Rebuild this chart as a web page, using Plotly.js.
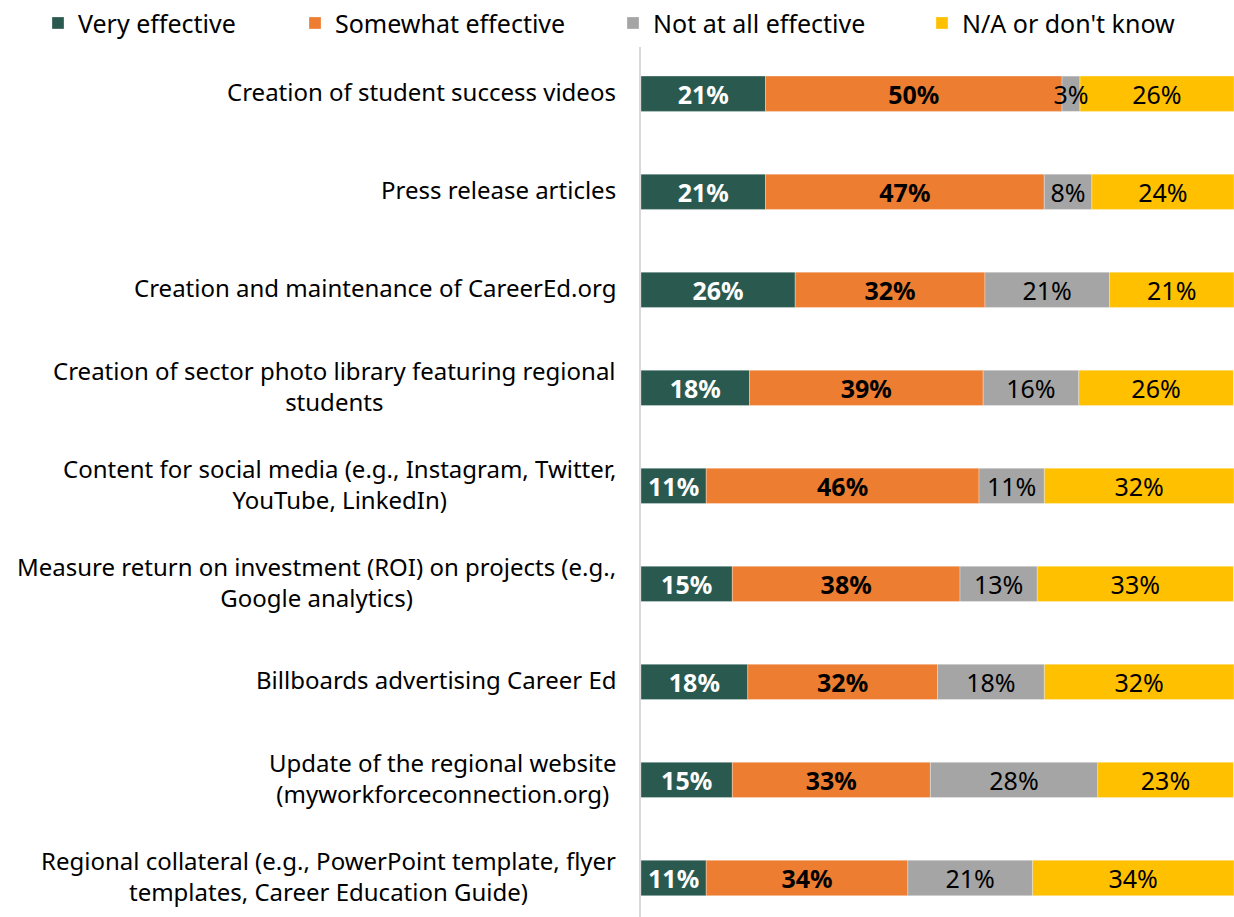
<!DOCTYPE html>
<html><head><meta charset="utf-8">
<script src="https://cdn.plot.ly/plotly-3.0.1.min.js"></script>
<style>html,body{margin:0;padding:0;background:#fff}#chart{width:1234px;height:917px}</style>
</head><body><div id="chart"></div>
<script>
const categories = [
  "Creation of student success videos",
  "Press release articles",
  "Creation and maintenance of CareerEd.org",
  "Creation of sector photo library featuring regional<br>students",
  "Content for social media (e.g., Instagram, Twitter,<br>YouTube, LinkedIn)",
  "Measure return on investment (ROI) on projects (e.g.,<br>Google analytics)",
  "Billboards advertising Career Ed",
  "Update of the regional website<br>(myworkforceconnection.org)",
  "Regional collateral (e.g., PowerPoint template, flyer<br>templates, Career Education Guide)"
];
const seriesNames = ["Very effective", "Somewhat effective", "Not at all effective", "N/A or don't know"];
const veryEffective     = [21, 21, 26, 18.3, 11, 15.4, 18, 15.4, 11];
const somewhatEffective = [50, 47, 32, 39.4, 46, 38.4, 32, 33.4, 34];
const notEffective      = [3, 8, 21, 16.1, 11, 13.0, 18, 28.2, 21];
const naDontKnow        = [26, 24, 21, 26.1, 32, 33.1, 32, 22.9, 34];

const colors = ["#2A5A4F", "#ED7D31", "#A5A5A5", "#FFC000"];
const textColors = ["#ffffff", "#000000", "#000000", "#000000"];
const bold = [true, true, false, false];
const FONT = "Noto Sans, Lato, sans-serif";
const values = [veryEffective, somewhatEffective, notEffective, naDontKnow];
const legendIds = ["legend", "legend2", "legend3", "legend4"];
const legendLeftPx = [38, 295, 613, 922];

// cumulative bases so segments can be drawn in any order (grey labels on top of yellow)
const bases = values.map((v, i) => v.map((_, k) => values.slice(0, i).reduce((s, arr) => s + arr[k], 0)));

const mk = i => ({
  type: "bar",
  orientation: "h",
  name: seriesNames[i],
  legend: legendIds[i],
  y: categories,
  x: values[i],
  base: bases[i],
  marker: {color: colors[i], line: {color: "rgba(255,255,255,0.6)", width: 0.5}},
  texttemplate: bold[i] ? "<b>%{x:.0f}%</b>" : "%{x:.0f}%",
  textposition: "inside",
  insidetextanchor: "middle",
  textangle: 0,
  constraintext: "none",
  textfont: {family: FONT, size: 25, color: textColors[i]},
  cliponaxis: false,
  hoverinfo: "skip"
});
const traces = [mk(0), mk(1), mk(3), mk(2)];

const annotations = categories.map(c => ({
  xref: "paper", yref: "y", x: 0, y: c, xanchor: "right", yanchor: "middle",
  xshift: -23, yshift: 2, text: c, showarrow: false, align: "center",
  font: {family: FONT, size: 24, color: "#000"}
}));

const layout = {
  width: 1234, height: 917,
  margin: {l: 641, r: 0, t: 40, b: 0},
  barmode: "overlay",
  bargap: 0.64,
  paper_bgcolor: "#fff", plot_bgcolor: "#fff",
  font: {family: FONT, size: 24, color: "#000"},
  uniformtext: {mode: "show", minsize: 25},
  xaxis: {range: [0, 100], showgrid: false, zeroline: false, showticklabels: false, showline: false, fixedrange: true},
  yaxis: {type: "category", range: [8.398, -0.477], showticklabels: false, showgrid: false, zeroline: false,
          showline: true, linecolor: "#d9d9d9", linewidth: 2, ticks: ""},
  showlegend: true,
  annotations: annotations
};
legendIds.forEach((id, i) => {
  layout[id] = {orientation: "h", x: (legendLeftPx[i] - 641) / 593, xanchor: "left",
                y: 1 + 24 / 877, yanchor: "middle", bgcolor: "rgba(0,0,0,0)",
                font: {family: FONT, size: 25, color: "#000"}, itemwidth: 30};
});
Plotly.newPlot("chart", traces, layout, {displayModeBar: false, staticPlot: true});
</script></body></html>
